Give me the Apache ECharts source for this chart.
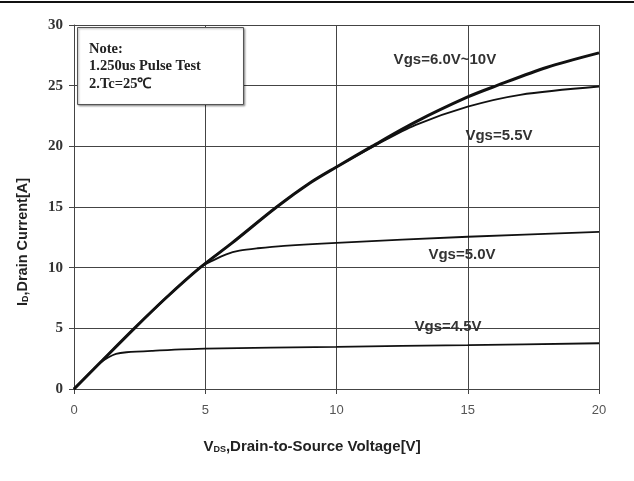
<!DOCTYPE html>
<html>
<head>
<meta charset="utf-8">
<script src="https://cdn.jsdelivr.net/npm/echarts@6/dist/echarts.min.js"></script>
<style>
  html, body { margin: 0; padding: 0; background: #fff; }
  #chart { width: 634px; height: 481px; }
</style>
</head>
<body>
<div id="chart"></div>
<script>
// Output characteristics: drain current vs drain-source voltage for several gate voltages
const vgs6to10 = [[0,0],[1,2.18],[2.3,5],[3.5,7.5],[4.8,10],[6,12],[7.72,15],[9,17],[10,18.3],[11.35,20],[13,22],[15,24.07],[16.1,25],[18,26.5],[20,27.7]];
const vgs55 = [[0,0],[1,2.18],[2.3,5],[3.5,7.5],[4.8,10],[6,12],[7.72,15],[9,17],[10,18.3],[11.5,20.1],[13,21.75],[15,23.27],[17,24.25],[20,24.93]];
const vgs50 = [[0,0],[1,2.18],[2.3,5],[3.5,7.5],[4.8,10],[5.3,10.6],[5.8,11.1],[6.3,11.4],[7,11.6],[8,11.8],[10,12.05],[15,12.55],[20,12.95]];
const vgs45 = [[0,0],[0.5,1.08],[1,2.15],[1.3,2.6],[1.6,2.9],[2,3.03],[3,3.15],[5,3.32],[10,3.48],[15,3.62],[20,3.77]];

const curveLabels = ['Vgs=6.0V~10V', 'Vgs=5.5V', 'Vgs=5.0V', 'Vgs=4.5V'];
const labelAt = [[14.13,27.12],[16.19,20.86],[14.78,11.05],[14.25,5.11]];

const xTicks = [0, 5, 10, 15, 20];
const yTicks = [0, 5, 10, 15, 20, 25, 30];
const noteLines = ['Note:', '1.250us Pulse Test', '2.Tc=25\u2103'];

const chart = echarts.init(document.getElementById('chart'));

function curve(data, width, idx) {
  return {
    type: 'line',
    data: data,
    showSymbol: false,
    smooth: 0.3,
    lineStyle: { color: '#111', width: width },
    z: 3,
    markPoint: {
      symbol: 'circle',
      symbolSize: 0,
      silent: true,
      label: {
        show: true,
        position: 'inside',
        formatter: curveLabels[idx],
        fontFamily: 'Liberation Sans',
        fontWeight: 'bold',
        fontSize: 15,
        color: '#333'
      },
      data: [{ coord: labelAt[idx] }]
    }
  };
}

chart.setOption({
  animation: false,
  grid: { left: 74, right: 35, top: 25, bottom: 92 },
  xAxis: {
    type: 'value',
    min: xTicks[0], max: xTicks[xTicks.length - 1], interval: 5,
    axisLine: { show: true, lineStyle: { color: '#444', width: 1 } },
    axisTick: { show: true, length: 5, lineStyle: { color: '#444' } },
    axisLabel: { margin: 15, fontFamily: 'Liberation Sans', fontSize: 13, color: '#555' },
    splitLine: { show: true, lineStyle: { color: '#444', width: 1 } }
  },
  yAxis: {
    type: 'value',
    min: yTicks[0], max: yTicks[yTicks.length - 1], interval: 5,
    axisLine: { show: true, lineStyle: { color: '#444', width: 1 } },
    axisTick: { show: true, length: 5, lineStyle: { color: '#444' } },
    axisLabel: { margin: 11, fontFamily: 'Liberation Serif', fontWeight: 'bold', fontSize: 15, color: '#333' },
    splitLine: { show: true, lineStyle: { color: '#444', width: 1 } }
  },
  series: [
    curve(vgs6to10, 3, 0),
    curve(vgs55, 1.8, 1),
    curve(vgs50, 1.8, 2),
    curve(vgs45, 1.8, 3)
  ],
  graphic: [
    { type: 'line', shape: { x1: 0, y1: 2, x2: 634, y2: 2 }, style: { stroke: '#111', lineWidth: 2 } },
    {
      type: 'rect', shape: { x: 77.5, y: 27.5, width: 166, height: 77 },
      style: { fill: '#fff', stroke: '#555', lineWidth: 1, shadowColor: 'rgba(0,0,0,0.35)', shadowBlur: 2, shadowOffsetX: 1, shadowOffsetY: 1 },
      z: 10
    },
    {
      type: 'text', left: 89, top: 40, z: 11,
      style: { text: noteLines.join('\n'), fontFamily: 'Liberation Serif', fontWeight: 'bold', fontSize: 14.5, lineHeight: 17.5, fill: '#222' }
    },
    {
      type: 'text', z: 11, x: 23, y: 242, rotation: Math.PI / 2,
      style: {
        text: '{m|I}{s|D}{m|,Drain Current[A]}',
        align: 'center', verticalAlign: 'middle',
        rich: {
          m: { fontFamily: 'Liberation Sans', fontWeight: 'bold', fontSize: 14.5, fill: '#222' },
          s: { fontFamily: 'Liberation Sans', fontWeight: 'bold', fontSize: 9, fill: '#222', padding: [6, 0, 0, 0] }
        }
      }
    },
    {
      type: 'text', z: 11, x: 312, y: 447,
      style: {
        text: '{m|V}{s|DS}{m|,Drain-to-Source Voltage[V]}',
        align: 'center', verticalAlign: 'middle',
        rich: {
          m: { fontFamily: 'Liberation Sans', fontWeight: 'bold', fontSize: 15, fill: '#222' },
          s: { fontFamily: 'Liberation Sans', fontWeight: 'bold', fontSize: 9, fill: '#222', padding: [6, 0, 0, 0] }
        }
      }
    }
  ]
});
</script>
</body>
</html>
